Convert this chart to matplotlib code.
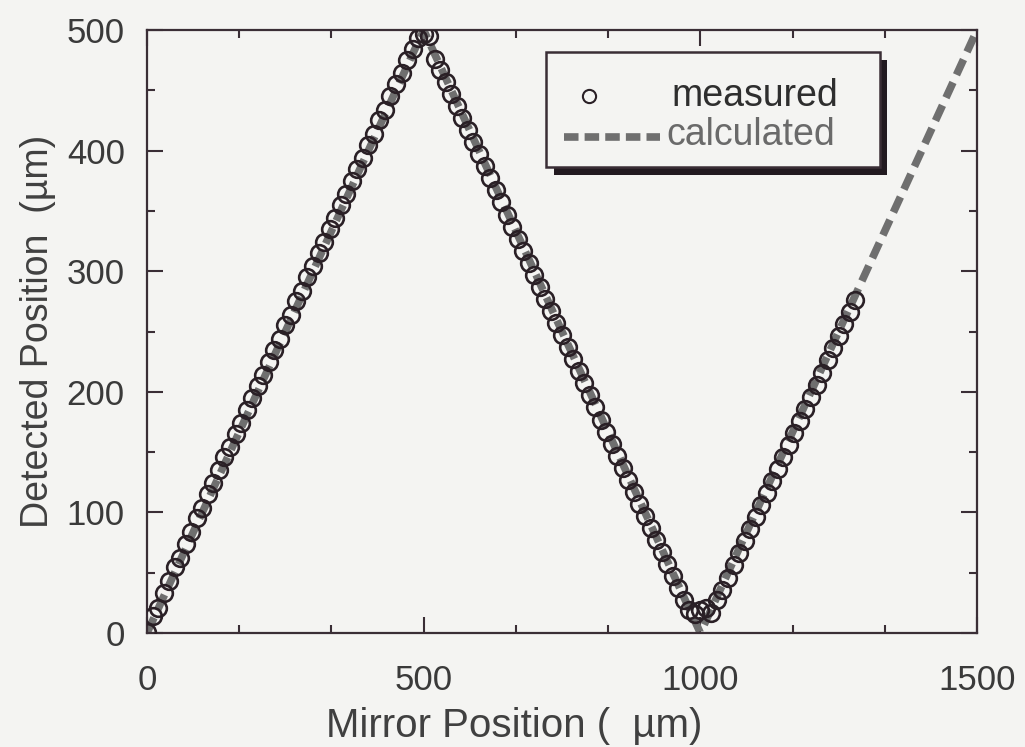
import matplotlib.pyplot as plt
from matplotlib.patches import Rectangle
from matplotlib.ticker import MultipleLocator

plt.rcParams['font.family'] = ['Liberation Sans', 'DejaVu Sans']

# measured points
x_meas = [0, 10, 20, 30, 40, 50, 60, 70, 80, 90,
          100, 110, 120, 130, 140, 150, 160, 170, 180, 190,
          200, 210, 220, 230, 240, 250, 260, 270, 280, 290,
          300, 310, 320, 330, 340, 350, 360, 370, 380, 390,
          400, 410, 420, 430, 440, 450, 460, 470, 480, 490,
          500, 510, 520, 530, 540, 550, 560, 570, 580, 590,
          600, 610, 620, 630, 640, 650, 660, 670, 680, 690,
          700, 710, 720, 730, 740, 750, 760, 770, 780, 790,
          800, 810, 820, 830, 840, 850, 860, 870, 880, 890,
          900, 910, 920, 930, 940, 950, 960, 970, 980, 990,
          1000, 1010, 1020, 1030, 1040, 1050, 1060, 1070, 1080, 1090,
          1100, 1110, 1120, 1130, 1140, 1150, 1160, 1170, 1180, 1190,
          1200, 1210, 1220, 1230, 1240, 1250, 1260, 1270, 1280]
y_meas = [1, 14, 21, 33, 43, 55, 62, 74, 84, 95,
          104, 115, 124, 135, 146, 154, 165, 174, 185, 195,
          205, 214, 225, 235, 244, 255, 264, 275, 284, 295,
          304, 315, 324, 335, 344, 355, 364, 375, 385, 394,
          405, 414, 425, 434, 445, 455, 464, 475, 484, 493,
          497, 495, 476, 467, 457, 447, 437, 427, 417, 407,
          397, 387, 377, 367, 357, 347, 337, 327, 317, 307,
          297, 287, 277, 267, 257, 247, 237, 227, 217, 207,
          197, 187, 177, 167, 157, 147, 137, 127, 117, 107,
          97, 87, 77, 67, 57, 47, 37, 27, 19, 16,
          19, 21, 17, 27, 36, 46, 56, 66, 76, 86,
          96, 106, 116, 126, 136, 146, 156, 166, 176, 186,
          196, 206, 216, 226, 236, 246, 256, 266, 276]

# calculated triangle wave (vertices)
x_calc = [0, 500, 1000, 1500]
y_calc = [0, 500, 0, 500]

INK = '#3a2e36'
GRAY = '#6f6f6f'
BG = '#f4f4f2'

fig = plt.figure(figsize=(10.25, 7.47), dpi=100, facecolor=BG)
ax = fig.add_axes([0.1434, 0.1526, 0.8098, 0.8072])
ax.set_facecolor(BG)

ax.plot(x_calc, y_calc, color=GRAY, lw=5.5, dashes=(2.2, 1.1), solid_capstyle='butt', zorder=2)
ax.plot(x_meas, y_meas, 'o', ms=12, mfc='none', mec='#2a2026', mew=1.9, zorder=3)

ax.set_xlim(0, 1500)
ax.set_ylim(0, 500)
ax.xaxis.set_major_locator(MultipleLocator(500))
ax.xaxis.set_minor_locator(MultipleLocator(500 / 3))
ax.yaxis.set_major_locator(MultipleLocator(100))
ax.yaxis.set_minor_locator(MultipleLocator(50))

for s in ax.spines.values():
    s.set_color(INK)
    s.set_linewidth(1.6)
ax.tick_params(which='both', direction='in', top=True, right=True, color=INK, width=1.5,
               labelsize=25, labelcolor='#3a3a3a')
ax.tick_params(which='major', length=11.5)
ax.tick_params(which='minor', length=6)
ax.tick_params(axis='x', pad=22)
ax.tick_params(axis='y', pad=16)

ax.set_xlabel('Mirror Position (  µm)', fontsize=29, color='#404040', labelpad=0)
ax.xaxis.set_label_coords(0.442, -0.123)
ax.set_ylabel('Detected Position  (µm)', fontsize=27, color='#404040', labelpad=8)

# legend box with drop shadow
tr = ax.transAxes
bx0, by0, bw, bh = 0.481, 0.773, 0.402, 0.1905
ax.add_patch(Rectangle((bx0 + 0.009, by0 - 0.014), bw, bh, transform=tr,
                       facecolor='#221a20', edgecolor='none', zorder=5, clip_on=False))
ax.add_patch(Rectangle((bx0, by0), bw, bh, transform=tr,
                       facecolor=BG, edgecolor=INK, lw=1.8, zorder=6, clip_on=False))
ax.plot([0.532], [0.890], 'o', transform=tr, ms=9.5, mfc='none', mec='#2a2026', mew=1.5,
        zorder=7, clip_on=False)
ax.plot([0.502, 0.618], [0.822, 0.822], transform=tr, color=GRAY, lw=5.5,
        dashes=(1.9, 0.8), solid_capstyle='butt', zorder=7, clip_on=False)
ax.text(0.632, 0.890, 'measured', transform=tr, fontsize=27, color='#2e2e2e',
        va='center', ha='left', zorder=7)
ax.text(0.626, 0.826, 'calculated', transform=tr, fontsize=27, color='#6a6a6a',
        va='center', ha='left', zorder=7)

fig.savefig('out.png', dpi=100, facecolor=BG)
